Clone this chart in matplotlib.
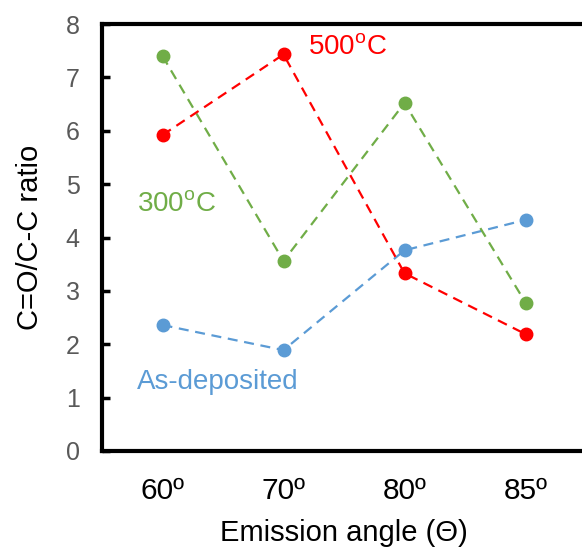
import matplotlib.pyplot as plt
import numpy as np

# Emission angle categories and C=O/C-C ratios per sample
angles = ["60º", "70º", "80º", "85º"]
as_deposited = [2.36, 1.89, 3.76, 4.33]
annealed_300 = [7.40, 3.56, 6.52, 2.78]
annealed_500 = [5.92, 7.43, 3.33, 2.19]

plt.rcParams["font.family"] = ["Liberation Sans", "DejaVu Sans"]
plt.rcParams["mathtext.fontset"] = "custom"
plt.rcParams["mathtext.rm"] = "Liberation Sans"

fig = plt.figure(figsize=(5.82, 5.47), dpi=100)
# axes runs slightly past the right edge of the figure
ax = fig.add_axes([102 / 582, 1 - 451 / 547, 484 / 582, 427 / 547])

x = np.arange(len(angles))
series = [
    (as_deposited, "#5B9BD5"),
    (annealed_300, "#70AD47"),
    (annealed_500, "#FF0000"),
]
for values, color in series:
    ax.plot(x, values, linestyle=(0, (4.5, 3)), linewidth=1.6, color=color,
            marker="o", markersize=9, clip_on=False)

# series labels
ax.text(1.2, 7.55, r"500$^{\mathrm{o}}$C", color="#FF0000", fontsize=20,
        ha="left", va="center")
ax.text(-0.21, 4.6, r"300$^{\mathrm{o}}$C", color="#70AD47", fontsize=20,
        ha="left", va="center")
ax.text(-0.21, 1.3, "As-deposited", color="#5B9BD5", fontsize=20,
        ha="left", va="center")

ax.set_xlim(-0.5, 3.5)
ax.set_ylim(0, 8)
ax.set_xticks(x)
ax.set_xticklabels(angles)
ax.set_yticks(range(0, 9))

ax.tick_params(axis="x", length=0, labelsize=21.5, pad=19, colors="black")
ax.tick_params(axis="y", direction="in", length=6, width=2.5,
               labelsize=18, pad=16, labelcolor="#595959")

for side in ["left", "bottom", "top", "right"]:
    ax.spines[side].set_linewidth(3)
    ax.spines[side].set_color("black")

ax.set_xlabel("Emission angle (Θ)", fontsize=21, labelpad=10)
ax.set_ylabel("C=O/C-C ratio", fontsize=21, labelpad=16)

fig.savefig("out.png", dpi=100)
